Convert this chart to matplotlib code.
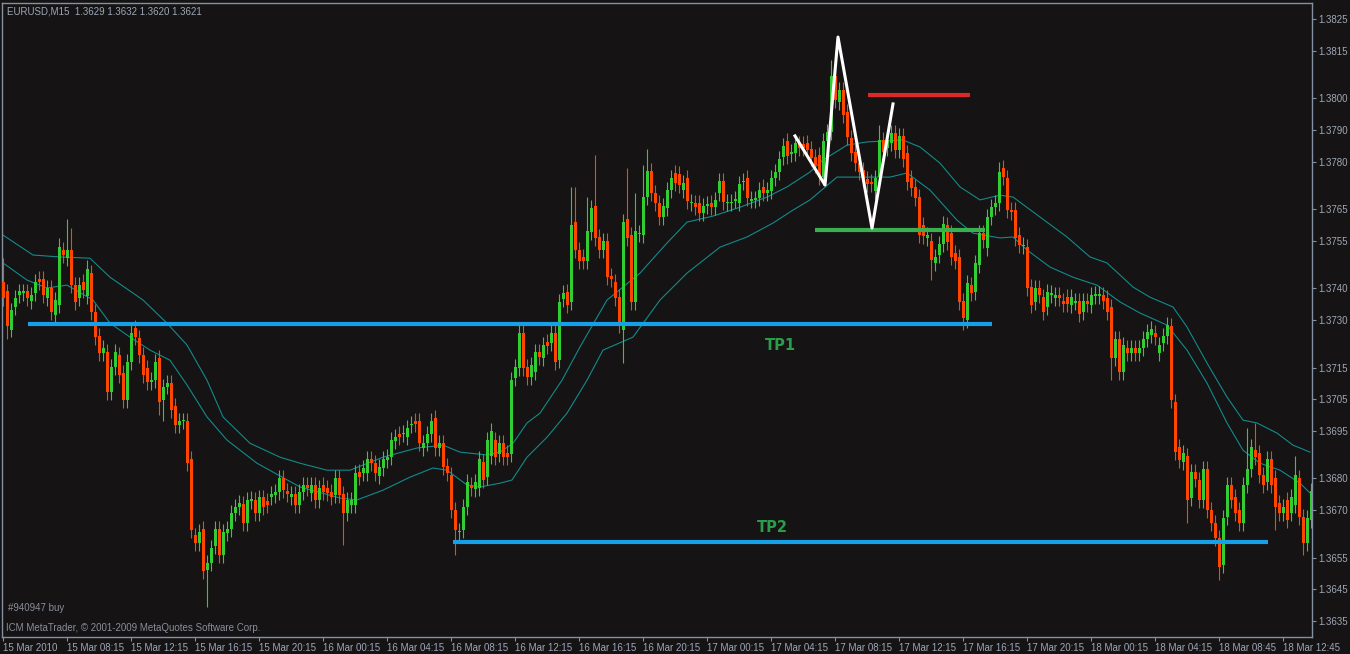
import numpy as np
import matplotlib
matplotlib.use("Agg")
import matplotlib.pyplot as plt

# EURUSD M15, prices in pips above 1.3600
BASE = 1.3600

opens = [
    142, 139, 127, 134, 138, 138.5, 139, 136, 138.5, 143,
    143, 137, 140, 131.6, 134.7, 152, 149.5, 152, 141, 137,
    142, 137.5, 144.8, 132.5, 124.9, 119.6, 119.9, 107.2, 115.1, 118.9,
    113.2, 104.7, 116.7, 127.4, 124.3, 118.9, 114.8, 110.5, 111, 118,
    104.7, 109, 110, 103, 96.8, 98, 98, 86, 62, 59.6,
    64, 51.2, 53.3, 58.6, 64, 55.8, 62.7, 64, 69, 71,
    71.9, 65.9, 72.8, 73.2, 69, 74, 73, 74, 74.7, 75.7,
    80.1, 76, 74.1, 75, 71.6, 75.7, 77.9, 75.4, 77.9, 73.2,
    77.9, 76.9, 75.7, 74.7, 80.1, 75, 69, 71.6, 71.6, 82,
    81.7, 81.7, 86.1, 84.8, 80.7, 83.3, 85.8, 86.7, 91.8, 94,
    94, 93, 96.9, 98.1, 98.1, 89.6, 91.1, 94, 99, 89.6,
    91.1, 83.9, 81, 70, 63, 63.7, 71, 77.9, 76.6, 77,
    85.1, 80.4, 87, 92.1, 87.7, 91.1, 88, 87.7, 111.7, 114.8,
    125.9, 115.1, 112, 113.6, 119.9, 118, 123, 122.7, 125.9, 117.3,
    136.6, 138.8, 135.7, 160.9, 152.1, 149.9, 148.6, 157.8, 166, 156.2,
    152.1, 154.9, 143.9, 142, 137.2, 126.8, 161.9, 156.8, 135.7, 157,
    156.8, 168.8, 177, 170, 166.9, 162.5, 165.3, 171, 176.4, 176,
    171, 174.8, 166.9, 166.9, 166.9, 163.8, 166, 166.9, 165.7, 170,
    173.9, 167, 167, 167.7, 166.9, 173.6, 174.8, 167.7, 168, 168.5,
    172, 170, 170.7, 174.8, 176.7, 181.4, 186.5, 182.5, 182.7, 185.5,
    185.5, 185.9, 184, 181.4, 182, 175, 186.5, 189.3, 207, 198.8,
    202.6, 195.6, 187.4, 183, 179.5, 177.3, 174.5, 173.5, 170.7, 175.1,
    186.8, 184.3, 185.9, 189, 183.6, 188, 182.7, 174.8, 172, 168.8,
    160, 155.9, 154.9, 148, 150.5, 154, 160, 157.4, 151.1, 149.9,
    136, 130, 141, 138.8, 147.3, 157.4, 152.7, 162.5, 165.7, 166.9,
    178, 174.8, 164.7, 164.7, 156.8, 153.4, 153, 140.4, 135.7, 140.1,
    137.2, 134, 138, 136.9, 137.9, 136, 137.2, 134.7, 135.5, 136,
    132.5, 136, 134.7, 137.7, 137.7, 137.9, 136.9, 134, 118, 124,
    113.6, 121.1, 119.6, 121.1, 119.6, 121.1, 124, 125.2, 125.9, 119.6,
    122.7, 124.9, 128.1, 104, 89.9, 85.1, 87, 73.8, 82, 79.5,
    73.2, 82.9, 70, 65.9, 61.2, 52.6, 67.8, 77.9, 74.1, 70,
    65.9, 77.9, 82.9, 88.9, 88, 81, 78.8, 86.1, 80.1, 72.2,
    69, 73.2, 69, 71.6, 80.1, 67.8, 59.6, 66.8,
]

closes = [
    137, 128, 133, 137, 139, 139, 137, 138, 142, 142,
    138, 140, 132.5, 136.3, 153, 150.5, 152, 141, 135.7, 141,
    139.5, 146, 132.5, 124.6, 119.6, 121.1, 107.2, 115.1, 119.9, 112.6,
    104.7, 116.7, 125.9, 124.6, 118.9, 112.6, 110.4, 111, 116.7, 104,
    109, 110, 101.6, 96.8, 98, 98.2, 84.8, 63.7, 59.6, 63,
    50.7, 53.3, 58, 64, 55.8, 63, 64, 69, 71, 72.2,
    65.9, 73.2, 73.5, 69, 74, 71, 71.6, 75, 75.7, 80.1,
    76.3, 75, 75, 71.6, 75.7, 77.9, 76.9, 77.9, 73.2, 76.9,
    75.7, 75.4, 74.1, 80.1, 74.7, 69, 73.2, 73.2, 81.7, 80.4,
    83.3, 86.1, 84.8, 81.7, 83.6, 86.1, 86.7, 92.1, 93, 93,
    94.3, 95.9, 97.2, 97.1, 91.1, 91.1, 94, 98.1, 89.6, 91.1,
    83.6, 81.7, 70, 63.7, 63.5, 71, 79, 76.9, 78.8, 86,
    79.5, 92.1, 95, 86.7, 91.1, 86.7, 86.7, 111, 115.1, 125.9,
    114.8, 112, 115.8, 119.9, 118.3, 122.1, 121.8, 125.9, 116.7, 135.7,
    138.6, 134.7, 160, 152.1, 148.6, 148.6, 158.1, 165.3, 155.9, 152.1,
    154.9, 143.5, 142.9, 136.9, 129, 160.9, 155.9, 135.7, 158.1, 157.5,
    168.8, 177, 170, 166.9, 162.5, 166, 171, 174.8, 173.2, 172.6,
    173.2, 167.5, 167.3, 165.7, 163.8, 166, 166.5, 165.7, 167.9, 173.9,
    167.2, 167.4, 167.4, 168.1, 172.9, 174, 168.5, 168.2, 168.3, 171,
    170, 171, 174.8, 176.7, 180.8, 184.9, 181.7, 182.9, 185.9, 184.3,
    184.3, 183.6, 181.1, 178.9, 175, 186.5, 189.3, 207, 199.4, 202.6,
    194.7, 187.7, 182.7, 179.5, 176.7, 174.5, 172.9, 172.9, 174.8, 186.8,
    183, 186.8, 189, 183.6, 188, 180.8, 173.5, 171.6, 168.5, 156.8,
    156.5, 156.8, 148.9, 149.9, 154, 160.3, 154.6, 149.9, 148.6, 135.7,
    130.6, 141.7, 138.5, 148, 157.4, 155.2, 162.5, 165.7, 166.9, 176.7,
    175.1, 164.7, 164, 155.9, 153.6, 153.7, 140.1, 134.7, 140.1, 137.9,
    132.5, 138.8, 138.4, 137.9, 136.9, 135, 135, 137.2, 135.9, 131.9,
    136, 135, 137.9, 138.1, 138.1, 136, 132.5, 118, 124, 113.6,
    122.1, 119.6, 121.1, 119.6, 121.1, 124, 126.2, 127.1, 124.6, 122.1,
    124.9, 128.4, 104.7, 88.3, 85.8, 88, 73.2, 82, 79.8, 73.2,
    82.9, 70, 65.9, 61.2, 52, 67.5, 77.9, 73.2, 69, 65.9,
    77.9, 82.9, 89.9, 86.7, 81, 77.9, 86.1, 77.9, 70.9, 69,
    70.9, 66.8, 74.1, 81, 67.8, 59.6, 67.5, 76,
]

# usual shadow length (pips) and the long shadows
shadow = 2.5
high_marks = {0: 149.6, 14: 156, 16: 161.9, 17: 159, 21: 149, 39: 120,
              142: 172, 143: 172, 146: 168.8, 148: 182, 156: 178, 158: 170,
              160: 178.9, 161: 184, 207: 212, 208: 215, 219: 191.5,
              249: 179.9, 250: 180, 292: 130, 311: 95.9, 313: 97.4, 323: 87}
low_marks = {1: 124, 39: 100, 40: 98, 50: 48.8, 51: 39.4, 85: 58.9,
             113: 55.8, 154: 126, 155: 116.4, 232: 142.6, 240: 126.8,
             277: 111, 279: 111.6, 296: 65.9, 304: 47.9, 305: 50,
             318: 63.7, 325: 55.8}

# the two moving-average lines, read at candle positions
ma1_x = [0, 7.5, 14.25, 21.75, 26.75, 32.5, 35, 41, 46, 51, 55, 61.75, 69.25,
         74.25, 81, 86.75, 95, 103.5, 110, 114.25, 121, 124.25, 127.5, 131,
         134.25, 139.75, 144.25, 151, 159.25, 166, 171, 177.5, 184.25, 191,
         196, 201.75, 205, 211, 216, 225, 229.25, 234.25, 239.25, 244.25,
         249.25, 252.5, 259.25, 266, 271.75, 276, 282.5, 286.75, 292.5, 296,
         301, 306, 310, 313.5, 318.5, 322.5, 326.75]
ma1 = [156.8, 150.5, 149.9, 149.5, 143.5, 138.5, 136.3, 129.0, 122.1, 111.0,
       99.4, 91.1, 86.7, 84.8, 82.6, 82.6, 86.7, 89.6, 90.5, 88.3, 87.4, 88.3,
       91.1, 97.5, 100.6, 111.0, 121.5, 136.3, 144.8, 154.3, 160.9, 162.8,
       165.6, 168.8, 172.0, 176.7, 180.5, 185.2, 186.2, 186.8, 184.6, 179.5,
       172.0, 167.9, 169.4, 168.8, 162.5, 156.2, 149.9, 148.0, 140.4, 137.2,
       134.1, 127.8, 116.4, 105.7, 98.4, 97.5, 94.3, 90.5, 88.3]
ma2_x = [0, 6, 11, 16, 22.5, 26.75, 31.75, 36.75, 41.75, 46, 51, 56, 63.5,
         74.25, 84.25, 88.5, 95, 101.75, 107.5, 111, 116, 119.25, 124.25,
         127.25, 131, 136, 141, 146, 150, 157.5, 164.25, 171, 179.25, 186,
         192.5, 197.5, 201.75, 208.5, 221.75, 226, 231.75, 238.5, 242.5,
         249.25, 252.5, 256, 261.75, 267.5, 273.5, 279.25, 284.25, 291, 296,
         301, 306, 310, 314.25, 319.25, 324.25, 326.75]
ma2 = [148.0, 142.6, 140.1, 141.0, 136.3, 129.0, 124.6, 120.5, 117.3, 109.5,
       99.4, 92.1, 84.8, 77.3, 73.8, 73.2, 76.3, 80.4, 83.3, 82.6, 77.9, 77.3,
       78.5, 79.5, 86.7, 93.0, 100.6, 111.0, 120.5, 124.6, 136.3, 144.8, 153.0,
       156.2, 160.6, 164.7, 167.9, 175.1, 175.1, 176.4, 171.0, 161.5, 157.4,
       155.9, 156.2, 152.1, 146.7, 143.5, 141.0, 135.7, 132.2, 128.4, 120.5,
       110.1, 97.5, 88.9, 84.8, 82.6, 78.5, 75.4]

# hand-drawn marks: (start candle, end candle, level in pips)
tp1_line = (6.25, 247.25, 128.7)
tp2_line = (112.5, 316.25, 59.9)
neck_line = (203, 245.5, 158.4)
stop_line = (216.25, 241.75, 201.0)
zigzag_x = [198, 205.5, 208.75, 217.25, 222.5]
zigzag_y = [188.1, 172.6, 219.3, 159.0, 198.2]

tick_labels = ["15 Mar 2010", "15 Mar 08:15", "15 Mar 12:15", "15 Mar 16:15",
               "15 Mar 20:15", "16 Mar 00:15", "16 Mar 04:15", "16 Mar 08:15",
               "16 Mar 12:15", "16 Mar 16:15", "16 Mar 20:15", "17 Mar 00:15",
               "17 Mar 04:15", "17 Mar 08:15", "17 Mar 12:15", "17 Mar 16:15",
               "17 Mar 20:15", "18 Mar 00:15", "18 Mar 04:15", "18 Mar 08:45",
               "18 Mar 12:45"]
price_ticks = [1.3825, 1.3815, 1.3800, 1.3790, 1.3780, 1.3765, 1.3755, 1.3740,
               1.3730, 1.3715, 1.3705, 1.3695, 1.3680, 1.3670, 1.3655, 1.3645,
               1.3635]


def px(p):
    return BASE + np.asarray(p, dtype=float) / 10000.0


BG = "#151313"
FRAME = "#8391a3"
TXT = "#9ea8b6"
BULL = "#32cd32"
BEAR = "#ff4500"

o = np.array(opens, dtype=float)
c = np.array(closes, dtype=float)
n = len(o)
idx = np.arange(n)
hi = np.maximum(o, c) + shadow
lo = np.minimum(o, c) - shadow
for k, v in high_marks.items():
    hi[k] = max(hi[k], v)
for k, v in low_marks.items():
    lo[k] = min(lo[k], v)

fig = plt.figure(figsize=(13.5, 6.54), dpi=100, facecolor=BG)
ax = fig.add_axes([2 / 1350, 17 / 654, 1310 / 1350, 634 / 654], facecolor=BG)

cols = [BULL if cc >= oo else BEAR for oo, cc in zip(o, c)]

# moving averages
ax.plot(ma1_x, px(ma1), color="#138a8c", lw=0.8, zorder=1)
ax.plot(ma2_x, px(ma2), color="#138a8c", lw=0.8, zorder=1)

# candles
ax.vlines(idx, px(lo), px(hi), colors=cols, lw=0.8, zorder=2)
body = np.maximum(np.abs(c - o), 0.35)
ax.bar(idx, body / 10000.0, bottom=px(np.minimum(o, c)), width=0.75,
       color=cols, linewidth=0, zorder=3)

# drawn objects
ax.plot(tp1_line[:2], [px(tp1_line[2])] * 2, color="#16a0e8", lw=3.0,
        solid_capstyle="butt", zorder=4)
ax.plot(tp2_line[:2], [px(tp2_line[2])] * 2, color="#16a0e8", lw=3.0,
        solid_capstyle="butt", zorder=4)
ax.plot(neck_line[:2], [px(neck_line[2])] * 2, color="#3aaf50", lw=3.0,
        solid_capstyle="butt", zorder=4)
ax.plot(stop_line[:2], [px(stop_line[2])] * 2, color="#dc2828", lw=3.0,
        solid_capstyle="butt", zorder=4)
ax.plot(zigzag_x, px(zigzag_y), color="white", lw=2.2, zorder=5)

ax.text(194.25, px(122.1), "TP1", color="#2a9d4a", fontsize=10.5,
        fontweight="bold", ha="center", va="center", zorder=6)
ax.text(192.25, px(64.6), "TP2", color="#2a9d4a", fontsize=10.5,
        fontweight="bold", ha="center", va="center", zorder=6)

ax.set_xlim(-0.25, 327.25)
ax.set_ylim(1.362995, 1.383005)

for s in ax.spines.values():
    s.set_color(FRAME)
    s.set_linewidth(1.0)

ax.set_xticks(np.arange(len(tick_labels)) * 16)
ax.set_xticklabels(tick_labels, ha="left")
ax.yaxis.tick_right()
ax.set_yticks(price_ticks)
ax.set_yticklabels([f"{v:.4f}" for v in price_ticks])
ax.tick_params(axis="both", colors=FRAME, labelcolor=TXT, labelsize=7,
               length=3, width=0.8, pad=1.5)
for lab in ax.get_xticklabels() + ax.get_yticklabels():
    lab.set_family("Liberation Sans")

fig.text(7 / 1350, 1 - 11 / 654, "EURUSD,M15  1.3629 1.3632 1.3620 1.3621",
         color=TXT, fontsize=7, family="Liberation Sans", va="center")
fig.text(8 / 1350, 1 - 608 / 654, "#940947 buy", color="#8a8f9a",
         fontsize=7, family="Liberation Sans", va="center")
fig.text(6 / 1350, 1 - 628 / 654,
         "ICM MetaTrader, \u00a9 2001-2009 MetaQuotes Software Corp.",
         color="#8a8f9a", fontsize=7, family="Liberation Sans", va="center")

fig.savefig("out.png", dpi=100, facecolor=BG)
